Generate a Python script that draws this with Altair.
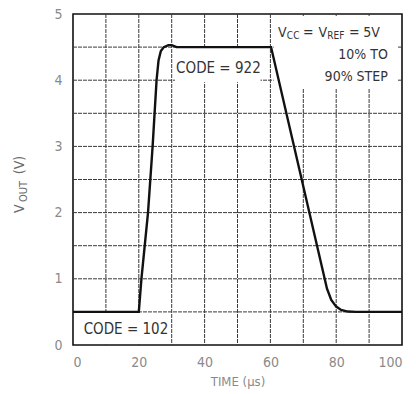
import altair as alt
import pandas as pd

# Output step response: time in microseconds, output voltage in volts
time_us = [0, 20, 20.8, 22.8, 24.2, 25.4, 26.0, 26.7, 27.6, 29.0, 30.0, 31.5, 60.2, 77.2, 78.5, 80.0, 81.5, 83.5, 86, 100]
vout_v = [0.5, 0.5, 1.0, 2.0, 3.0, 4.0, 4.3, 4.44, 4.5, 4.53, 4.53, 4.5, 4.5, 0.85, 0.68, 0.58, 0.53, 0.505, 0.5, 0.5]

# Grid positions
grid_t = [10, 20, 30, 40, 50, 60, 70, 80, 90]
grid_v = [0.5, 1, 1.5, 2, 2.5, 3, 3.5, 4, 4.5]

# Tick labels
tick_t = [0, 20, 40, 60, 80, 100]
tick_v = [0, 1, 2, 3, 4, 5]

# Code labels on the two settled levels
code_text = ["CODE = 922", "CODE = 102"]
code_x = [44.2, 16.1]
code_y = [4.18, 0.24]

# Condition note (right aligned lines)
note_text = ["10% TO", "90% STEP"]
note_x = [95.7, 95.7]
note_y = [4.38, 4.05]

# First note line built from pieces so the subscripts can be smaller
supply_text = ["V", "CC", "=", "V", "REF", "=", "5V"]
supply_x = [62.3, 65.0, 69.9, 74.6, 77.3, 83.9, 88.2]
supply_y = [4.71, 4.67, 4.71, 4.71, 4.67, 4.71, 4.71]
supply_size = ["main", "sub", "main", "main", "sub", "main", "main"]

# White label backgrounds
box_x = [31, 0.3, 61]
box_x2 = [57, 29, 98.5]
box_y = [3.97, 0.02, 3.88]
box_y2 = [4.47, 0.47, 4.97]

# Vertical axis title pieces
ytitle_text = ["V", "OUT", "(V)"]
ytitle_x = [-16.1, -15.0, -16.1]
ytitle_y = [2.06, 2.32, 2.72]
ytitle_size = ["main", "sub", "main"]

FONT = "Liberation Sans Narrow, DejaVu Sans Condensed, Liberation Sans, sans-serif"
INK = "#333333"
GRID = "#3a3a3a"

curve = pd.DataFrame({"t": time_us, "v": vout_v})
gx = pd.DataFrame({"t": grid_t})
gy = pd.DataFrame({"v": grid_v})
codes = pd.DataFrame({"label": code_text, "x": code_x, "y": code_y})
notes = pd.DataFrame({"label": note_text, "x": note_x, "y": note_y})
supply = pd.DataFrame({"label": supply_text, "x": supply_x, "y": supply_y, "size": supply_size})
boxes = pd.DataFrame({"x": box_x, "x2": box_x2, "y": box_y, "y2": box_y2})
ytitle = pd.DataFrame({"label": ytitle_text, "x": ytitle_x, "y": ytitle_y, "size": ytitle_size})

xscale = alt.Scale(domain=[0, 100], nice=False, zero=False)
yscale = alt.Scale(domain=[0, 5], nice=False, zero=False)

xaxis = alt.Axis(
    values=tick_t, format="d",
    title="TIME (µs)",
    titleFont=FONT, titleFontSize=13, titleFontWeight="normal", titleColor="#8a8a8a",
    titlePadding=6,
    labelFont=FONT, labelFontSize=14, labelColor="#8a8a8a", labelPadding=10,
    grid=False, ticks=False, domain=False,
)
yaxis = alt.Axis(
    values=tick_v, format="d",
    title=None,
    labelFont=FONT, labelFontSize=14, labelColor="#8a8a8a", labelPadding=11,
    grid=False, ticks=False, domain=False,
)

line = alt.Chart(curve).mark_line(color="#111111", strokeWidth=2.4, interpolate="linear").encode(
    x=alt.X("t:Q", scale=xscale, axis=xaxis),
    y=alt.Y("v:Q", scale=yscale, axis=yaxis),
)

vgrid = alt.Chart(gx).mark_rule(color=GRID, strokeWidth=1, strokeDash=[4, 1]).encode(
    x=alt.X("t:Q", scale=xscale, axis=xaxis),
)
hgrid = alt.Chart(gy).mark_rule(color=GRID, strokeWidth=1, strokeDash=[4, 1]).encode(
    y=alt.Y("v:Q", scale=yscale, axis=yaxis),
)

bg = alt.Chart(boxes).mark_rect(fill="white").encode(
    x=alt.X("x:Q", scale=xscale, axis=xaxis), x2="x2:Q",
    y=alt.Y("y:Q", scale=yscale, axis=yaxis), y2="y2:Q",
)

code_marks = alt.Chart(codes).mark_text(font=FONT, fontSize=15, color=INK, align="center", baseline="middle").encode(
    x=alt.X("x:Q", scale=xscale, axis=xaxis), y=alt.Y("y:Q", scale=yscale, axis=yaxis), text="label:N",
)

note_marks = alt.Chart(notes).mark_text(font=FONT, fontSize=14, color=INK, align="right", baseline="middle").encode(
    x=alt.X("x:Q", scale=xscale, axis=xaxis), y=alt.Y("y:Q", scale=yscale, axis=yaxis), text="label:N",
)

supply_marks = alt.Chart(supply).mark_text(font=FONT, color=INK, align="left", baseline="middle").encode(
    x=alt.X("x:Q", scale=xscale, axis=xaxis), y=alt.Y("y:Q", scale=yscale, axis=yaxis), text="label:N",
    size=alt.Size("size:N", scale=alt.Scale(domain=["main", "sub"], range=[14, 10]), legend=None),
)

ytitle_marks = alt.Chart(ytitle).mark_text(font=FONT, color="#6a6a6a", align="center", baseline="middle", angle=270).encode(
    x=alt.X("x:Q", scale=xscale, axis=xaxis), y=alt.Y("y:Q", scale=yscale, axis=yaxis), text="label:N",
    size=alt.Size("size:N", scale=alt.Scale(domain=["main", "sub"], range=[14, 11]), legend=None),
)

chart = alt.layer(
    vgrid, hgrid, bg, line, code_marks, note_marks, supply_marks, ytitle_marks
).resolve_scale(size="independent").properties(
    width=329, height=331,
    autosize=alt.AutoSizeParams(type="none"),
    padding={"left": 73, "top": 14, "right": 14, "bottom": 49},
    background="white",
).configure_view(
    stroke="#111111", strokeWidth=1.6, clip=False,
)

chart.save("out.html", embed_options={"renderer": "svg", "actions": False})
